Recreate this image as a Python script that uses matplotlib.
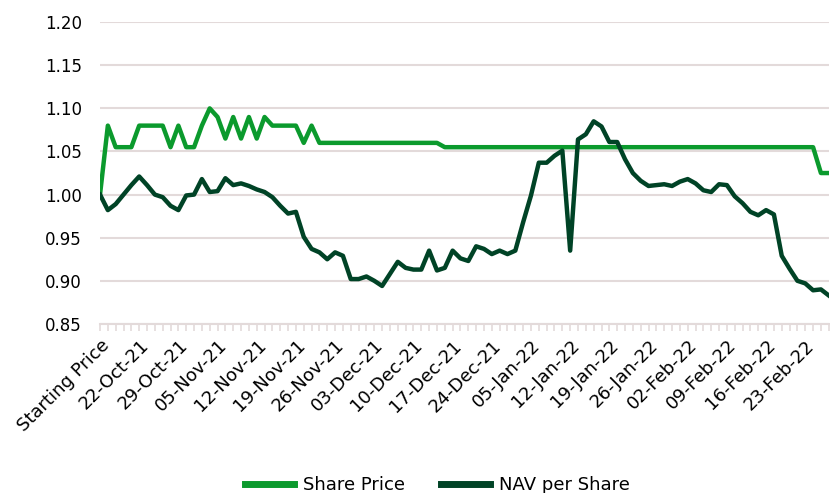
import numpy as np
import matplotlib.pyplot as plt
import pandas as pd

plt.rcParams['font.family'] = ['DejaVu Sans']

# UK business days, holidays removed
dates = pd.bdate_range('2021-10-18', '2022-02-28')
dates = dates[~dates.isin(pd.to_datetime(['2021-12-27', '2021-12-28', '2022-01-03']))]
categories = ['Starting Price'] + [d.strftime('%d-%b-%y') for d in dates]

share_price = [
    1.00, 1.08, 1.055, 1.055, 1.055, 1.08, 1.08, 1.08, 1.08, 1.055,
    1.08, 1.055, 1.055, 1.08, 1.10, 1.09, 1.065, 1.09, 1.065, 1.09,
    1.065, 1.09, 1.08, 1.08, 1.08, 1.08, 1.06, 1.08, 1.06, 1.06,
    1.06, 1.06, 1.06, 1.06, 1.06, 1.06, 1.06, 1.06, 1.06, 1.06,
    1.06, 1.06, 1.06, 1.06, 1.055, 1.055, 1.055, 1.055, 1.055, 1.055,
    1.055, 1.055, 1.055, 1.055, 1.055, 1.055, 1.055, 1.055, 1.055, 1.055,
    1.055, 1.055, 1.055, 1.055, 1.055, 1.055, 1.055, 1.055, 1.055, 1.055,
    1.055, 1.055, 1.055, 1.055, 1.055, 1.055, 1.055, 1.055, 1.055, 1.055,
    1.055, 1.055, 1.055, 1.055, 1.055, 1.055, 1.055, 1.055, 1.055, 1.055,
    1.055, 1.055, 1.025, 1.025,
]

nav_per_share = [
    1.000, 0.982, 0.989, 1.000, 1.011, 1.021, 1.011, 1.000, 0.997, 0.987,
    0.982, 0.999, 1.000, 1.018, 1.003, 1.004, 1.019, 1.011, 1.013, 1.010,
    1.006, 1.003, 0.997, 0.987, 0.978, 0.980, 0.951, 0.937, 0.933, 0.925,
    0.933, 0.929, 0.902, 0.902, 0.905, 0.900, 0.894, 0.908, 0.922, 0.915,
    0.913, 0.913, 0.935, 0.912, 0.915, 0.935, 0.926, 0.923, 0.940, 0.937,
    0.931, 0.935, 0.931, 0.935, 0.968, 0.999, 1.037, 1.037, 1.045, 1.051,
    0.935, 1.064, 1.070, 1.085, 1.079, 1.061, 1.061, 1.041, 1.025, 1.016,
    1.010, 1.011, 1.012, 1.010, 1.015, 1.018, 1.013, 1.005, 1.003, 1.012,
    1.011, 0.998, 0.990, 0.980, 0.976, 0.982, 0.977, 0.929, 0.914, 0.900,
    0.897, 0.889, 0.890, 0.883,
]

grid_col = '#e3dada'
x = np.arange(len(categories))

fig = plt.figure(figsize=(8.3, 4.93), dpi=100)
ax = fig.add_axes([0.1205, 0.343, 0.878, 0.612])

ax.plot(x, share_price, color='#0b9a2d', lw=3.2, label='Share Price', solid_joinstyle='round')
ax.plot(x, nav_per_share, color='#004326', lw=3.2, label='NAV per Share', solid_joinstyle='round')

ax.set_xlim(0, len(categories) - 1)
ax.set_ylim(0.85, 1.20)
ax.set_yticks(np.arange(0.85, 1.2001, 0.05))
ax.set_yticklabels([f'{v:.2f}' for v in np.arange(0.85, 1.2001, 0.05)])
ax.grid(axis='y', color=grid_col, lw=1.5)
ax.set_axisbelow(True)
for s in ['top', 'right', 'left']:
    ax.spines[s].set_visible(False)
ax.spines['bottom'].set_color(grid_col)
ax.spines['bottom'].set_linewidth(1.5)

ax.set_xticks(x)
ax.set_xticklabels([c if i % 5 == 0 else '' for i, c in enumerate(categories)],
                   rotation=45, ha='right', rotation_mode='anchor')
ax.tick_params(axis='x', length=5, width=1.2, color=grid_col, labelsize=13, pad=4)
ax.tick_params(axis='y', length=0, labelsize=12, pad=13)

fig.legend(loc='lower center', bbox_to_anchor=(0.527, -0.035), ncol=2, frameon=False,
           fontsize=13, handlelength=2.7, columnspacing=2.0, handletextpad=0.5)
for line in fig.legends[0].get_lines():
    line.set_linewidth(5)

fig.savefig('out.png', dpi=100)
